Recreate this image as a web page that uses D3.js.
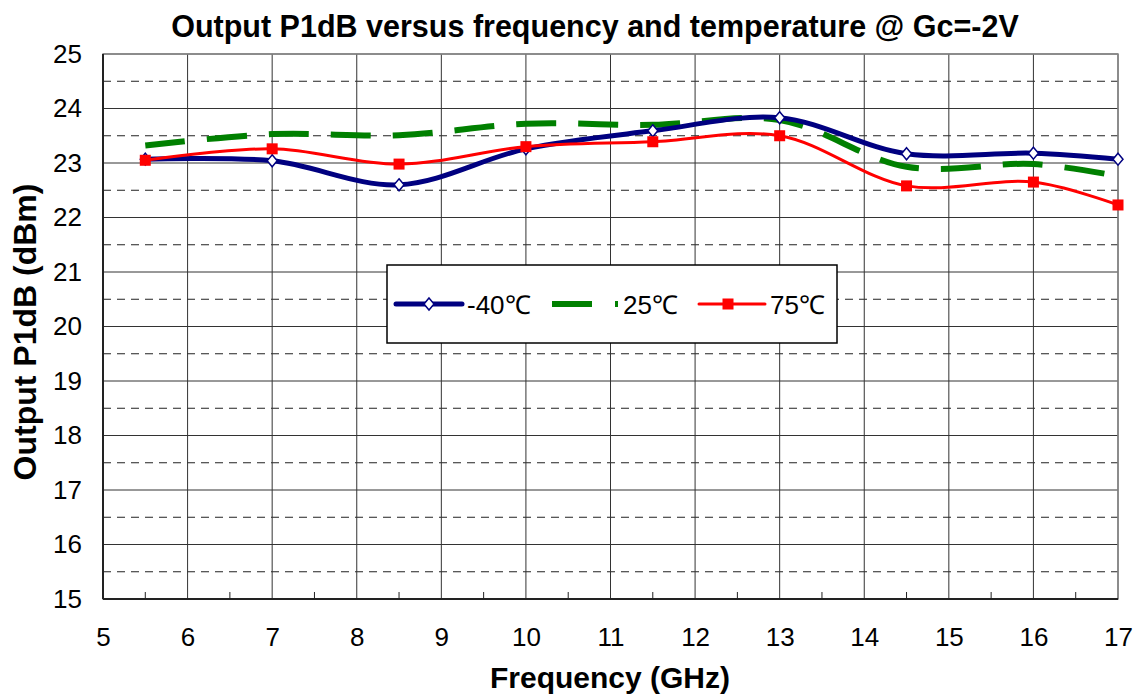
<!DOCTYPE html>
<html>
<head>
<meta charset="utf-8">
<script src="https://cdn.jsdelivr.net/npm/d3@7"></script>
<style>
  body { margin: 0; background: #fff; }
  svg { font-family: "Liberation Sans", Arial, sans-serif; }
</style>
</head>
<body>
<svg id="chart" width="1144" height="700"></svg>
<script>
// frequency points (GHz)
var freqs = [5.5, 7, 8.5, 10, 11.5, 13, 14.5, 16, 17];
// output P1dB (dBm) per temperature
var m40 = [23.07, 23.04, 22.60, 23.26, 23.59, 23.83, 23.17, 23.18, 23.07];
var t25 = [23.32, 23.53, 23.51, 23.72, 23.70, 23.79, 22.93, 22.98, 22.76];
var t75 = [23.05, 23.26, 22.98, 23.30, 23.39, 23.50, 22.58, 22.65, 22.23];
var seriesNames = ["-40\u2103", "25\u2103", "75\u2103"];
var xTicks = [5, 6, 7, 8, 9, 10, 11, 12, 13, 14, 15, 16, 17];
var yTicks = [15, 16, 17, 18, 19, 20, 21, 22, 23, 24, 25];

var svg = d3.select("#chart");
var margin = {top: 54, right: 26, bottom: 101, left: 103};
var width = 1144 - margin.left - margin.right, height = 700 - margin.top - margin.bottom;

var x = d3.scaleLinear().domain([5, 17]).range([0, width]);
var y = d3.scaleLinear().domain([15, 25]).range([height, 0]);

var g = svg.append("g")
  .attr("transform", "translate(" + margin.left + "," + margin.top + ")");

// half-unit dashed horizontals
var halves = d3.range(15.5, 25, 1);
g.selectAll(".hgrid-half").data(halves).enter().append("line")
  .attr("x1", 0).attr("x2", width)
  .attr("y1", function(d){ return y(d); }).attr("y2", function(d){ return y(d); })
  .attr("stroke", "#222").attr("stroke-dasharray", "8,6").attr("stroke-width", 1);

g.selectAll(".hgrid").data(yTicks).enter().append("line")
  .attr("x1", 0).attr("x2", width)
  .attr("y1", function(d){ return y(d); }).attr("y2", function(d){ return y(d); })
  .attr("stroke", "#333").attr("stroke-width", 1);

g.selectAll(".vgrid").data(xTicks).enter().append("line")
  .attr("y1", 0).attr("y2", height)
  .attr("x1", function(d){ return x(d); }).attr("x2", function(d){ return x(d); })
  .attr("stroke", "#333").attr("stroke-width", 1);

// frame
g.append("rect").attr("width", width).attr("height", height)
  .attr("fill", "none").attr("stroke", "#888").attr("stroke-width", 1.5);
g.append("line").attr("x1", 0).attr("x2", 0).attr("y1", 0).attr("y2", height)
  .attr("stroke", "#222").attr("stroke-width", 2);
g.append("line").attr("x1", 0).attr("x2", width).attr("y1", height).attr("y2", height)
  .attr("stroke", "#222").attr("stroke-width", 2);

// minor ticks on x axis at half units
g.selectAll(".xminor").data(d3.range(5.5, 17, 1)).enter().append("line")
  .attr("x1", function(d){ return x(d); }).attr("x2", function(d){ return x(d); })
  .attr("y1", height).attr("y2", height - 7)
  .attr("stroke", "#222").attr("stroke-width", 1);

// axes text
var xAxis = g.append("g").attr("transform", "translate(0," + height + ")")
  .call(d3.axisBottom(x).tickValues(xTicks).tickSize(0).tickPadding(29).tickFormat(d3.format("d")));
xAxis.select(".domain").remove();
xAxis.selectAll("text").attr("font-size", 26).attr("fill", "#000").attr("font-family", "Liberation Sans, Arial, sans-serif");

var yAxis = g.append("g")
  .call(d3.axisLeft(y).tickValues(yTicks).tickSize(0).tickPadding(21).tickFormat(d3.format("d")));
yAxis.select(".domain").remove();
yAxis.selectAll("text").attr("font-size", 26).attr("fill", "#000").attr("font-family", "Liberation Sans, Arial, sans-serif");

var line = d3.line()
  .x(function(d){ return x(d[0]); })
  .y(function(d){ return y(d[1]); })
  .curve(d3.curveCatmullRom.alpha(0.5));

function pts(vals){ return freqs.map(function(f, i){ return [f, vals[i]]; }); }

// 25C green dashed
g.append("path").datum(pts(t25)).attr("d", line)
  .attr("fill", "none").attr("stroke", "#008000").attr("stroke-width", 6)
  .attr("stroke-dasharray", "40,22");

// -40C navy
g.append("path").datum(pts(m40)).attr("d", line)
  .attr("fill", "none").attr("stroke", "#000080").attr("stroke-width", 5);
g.selectAll(".dia").data(pts(m40)).enter().append("path")
  .attr("transform", function(d){ return "translate(" + x(d[0]) + "," + y(d[1]) + ")"; })
  .attr("d", "M0,-6L5,0L0,6L-5,0Z")
  .attr("fill", "#fff").attr("stroke", "#000080").attr("stroke-width", 1.5);

// 75C red
g.append("path").datum(pts(t75)).attr("d", line)
  .attr("fill", "none").attr("stroke", "#ff0000").attr("stroke-width", 3);
g.selectAll(".sq").data(pts(t75)).enter().append("rect")
  .attr("x", function(d){ return x(d[0]) - 5.5; })
  .attr("y", function(d){ return y(d[1]) - 5.5; })
  .attr("width", 11).attr("height", 11).attr("fill", "#ff0000");

// legend
var leg = svg.append("g").attr("transform", "translate(387,265)");
leg.append("rect").attr("width", 450).attr("height", 78)
  .attr("fill", "#fff").attr("stroke", "#000").attr("stroke-width", 1.5);
var ly = 39;
leg.append("line").attr("x1", 9).attr("x2", 75).attr("y1", ly).attr("y2", ly)
  .attr("stroke", "#000080").attr("stroke-width", 5).attr("stroke-linecap", "round");
leg.append("path").attr("transform", "translate(42," + ly + ")")
  .attr("d", "M0,-6L5,0L0,6L-5,0Z").attr("fill", "#fff").attr("stroke", "#000080").attr("stroke-width", 1.5);
leg.append("line").attr("x1", 165).attr("x2", 205).attr("y1", ly).attr("y2", ly)
  .attr("stroke", "#008000").attr("stroke-width", 6);
leg.append("line").attr("x1", 228).attr("x2", 231).attr("y1", ly).attr("y2", ly)
  .attr("stroke", "#008000").attr("stroke-width", 6);
leg.append("line").attr("x1", 312).attr("x2", 378).attr("y1", ly).attr("y2", ly)
  .attr("stroke", "#ff0000").attr("stroke-width", 3).attr("stroke-linecap", "round");
leg.append("rect").attr("x", 341 - 5.5).attr("y", ly - 5.5).attr("width", 11).attr("height", 11).attr("fill", "#ff0000");
var lx = [80, 236, 383];
leg.selectAll(".ltxt").data(seriesNames).enter().append("text")
  .attr("x", function(d, i){ return lx[i]; }).attr("y", ly + 10)
  .attr("font-size", 26).attr("fill", "#000").text(function(d){ return d; });

// titles
svg.append("text").attr("x", 595).attr("y", 37).attr("text-anchor", "middle")
  .attr("font-size", 30.5).attr("font-weight", "bold").text("Output P1dB versus frequency and temperature @ Gc=-2V");
svg.append("text").attr("x", 610).attr("y", 688).attr("text-anchor", "middle")
  .attr("font-size", 30).attr("font-weight", "bold").text("Frequency (GHz)");
svg.append("text").attr("transform", "translate(36,332)rotate(-90)").attr("text-anchor", "middle")
  .attr("font-size", 32).attr("font-weight", "bold").text("Output P1dB (dBm)");
</script>
</body>
</html>
